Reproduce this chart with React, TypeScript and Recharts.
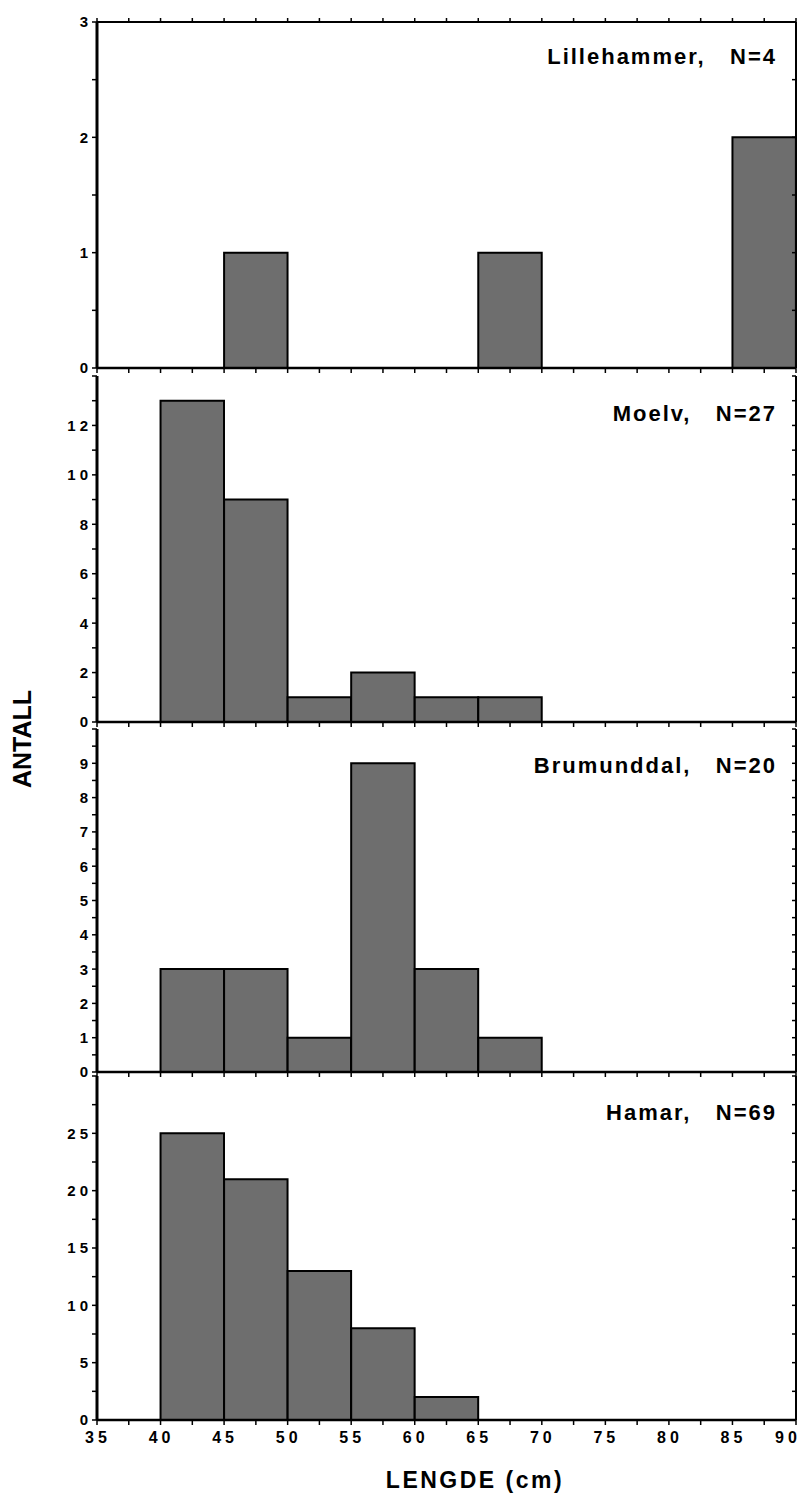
import React from 'react';
import { BarChart, Bar, Line, XAxis, YAxis } from 'recharts';

// ---- data ----
const binStarts = [35, 40, 45, 50, 55, 60, 65, 70, 75, 80, 85];
const binWidth = 5;
const lillehammer = [0, 0, 1, 0, 0, 0, 1, 0, 0, 0, 2];
const moelv = [0, 13, 9, 1, 2, 1, 1, 0, 0, 0, 0];
const brumunddal = [0, 3, 3, 1, 9, 3, 1, 0, 0, 0, 0];
const hamar = [0, 25, 21, 13, 8, 2, 0, 0, 0, 0, 0];

const xTicks = [35, 37.5, 40, 42.5, 45, 47.5, 50, 52.5, 55, 57.5, 60, 62.5, 65, 67.5, 70, 72.5, 75, 77.5, 80, 82.5, 85, 87.5, 90];
const xLabels = [35, 40, 45, 50, 55, 60, 65, 70, 75, 80, 85, 90];

const y1Ticks = [0, 0.5, 1, 1.5, 2, 2.5, 3];
const y1Labels = [0, 1, 2, 3];
const y2Ticks = [0, 1, 2, 3, 4, 5, 6, 7, 8, 9, 10, 11, 12, 13, 14];
const y2Labels = [0, 2, 4, 6, 8, 10, 12];
const y3Ticks = [0, 0.5, 1, 1.5, 2, 2.5, 3, 3.5, 4, 4.5, 5, 5.5, 6, 6.5, 7, 7.5, 8, 8.5, 9, 9.5, 10];
const y3Labels = [0, 1, 2, 3, 4, 5, 6, 7, 8, 9];
const y4Ticks = [0, 2.5, 5, 7.5, 10, 12.5, 15, 17.5, 20, 22.5, 25, 27.5, 30];
const y4Labels = [0, 5, 10, 15, 20, 25];

const titles = ['Lillehammer,   N=4', 'Moelv,   N=27', 'Brumunddal,   N=20', 'Hamar,   N=69'];
const xTitle = 'LENGDE (cm)';
const yTitle = 'ANTALL';

const FONT = '"Liberation Sans", Arial, Helvetica, sans-serif';
const BAR_FILL = '#6e6e6e';
const PLOT_LEFT = 97;
const RIGHT_MARGIN = 5;
const CHART_W = 801;
const BAR_PX = ((CHART_W - PLOT_LEFT - RIGHT_MARGIN - 1) * binWidth) / (90 - 35);

type PanelProps = {
  values: number[];
  yTicks: number[];
  yLabels: number[];
  yMax: number;
  top: number;
  height: number;
  mTop: number;
  mBottom: number;
  axisH: number;
  showXLabels: boolean;
  showTopAxis: boolean;
};

function Panel(p: PanelProps) {
  const data = binStarts.map((b, i) => ({ x: b + binWidth / 2, v: p.values[i] }));
  const yTick = (props: any) => {
    const { x, y, payload } = props;
    if (!p.yLabels.includes(payload.value)) return <g />;
    return (
      <text x={x + 4} y={y} dy="0.36em" textAnchor="end" fontFamily={FONT} fontWeight="bold" fontSize={15} letterSpacing={4} fill="#000">
        {payload.value}
      </text>
    );
  };
  const xTick = (props: any) => {
    const { x, y, payload } = props;
    if (!p.showXLabels || !xLabels.includes(payload.value)) return <g />;
    const cx = Math.min(x + 1, 788);
    return (
      <text x={cx} y={y + 16} textAnchor="middle" fontFamily={FONT} fontWeight="bold" fontSize={16} letterSpacing={4} fill="#000">
        {payload.value}
      </text>
    );
  };
  return (
    <div style={{ position: 'absolute', left: 0, top: p.top }}>
      <BarChart width={CHART_W} height={p.height} data={data} margin={{ top: p.mTop, right: RIGHT_MARGIN, bottom: p.mBottom, left: 0 }} barCategoryGap="0%" barGap={0}>
        <XAxis
          xAxisId="num"
          dataKey="x"
          type="number"
          domain={[35, 90]}
          ticks={xTicks}
          allowDataOverflow
          height={p.axisH}
          tickSize={5}
          tickMargin={2}
          axisLine={{ stroke: '#000', strokeWidth: 2.5 }}
          tickLine={{ stroke: '#000', strokeWidth: 1.5 }}
          tick={xTick}
          interval={0}
        />
        {p.showTopAxis && (
          <XAxis
            xAxisId="top"
            orientation="top"
            dataKey="x"
            type="number"
            domain={[35, 90]}
            ticks={xTicks}
            allowDataOverflow
            height={1}
            tickSize={4}
            axisLine={{ stroke: '#000', strokeWidth: 2 }}
            tickLine={{ stroke: '#000', strokeWidth: 1.5 }}
            tick={() => <g />}
            interval={0}
          />
        )}
        <YAxis
          yAxisId="left"
          width={PLOT_LEFT}
          domain={[0, p.yMax]}
          ticks={p.yTicks}
          allowDataOverflow
          interval={0}
          tickSize={5}
          tickMargin={4}
          axisLine={{ stroke: '#000', strokeWidth: 3 }}
          tickLine={{ stroke: '#000', strokeWidth: 1.5 }}
          tick={yTick}
        />
        <YAxis
          yAxisId="right"
          orientation="right"
          width={1}
          domain={[0, p.yMax]}
          ticks={p.yTicks}
          allowDataOverflow
          interval={0}
          mirror
          tickSize={4}
          axisLine={{ stroke: '#000', strokeWidth: 2 }}
          tickLine={{ stroke: '#000', strokeWidth: 1.5 }}
          tick={() => <g />}
        />
        <Bar xAxisId="num" yAxisId="left" dataKey="v" barSize={BAR_PX} fill={BAR_FILL} stroke="#000" strokeWidth={2} isAnimationActive={false} />
        <Line
          xAxisId={p.showTopAxis ? 'top' : 'num'}
          yAxisId="right"
          dataKey="v"
          stroke="none"
          strokeWidth={0}
          dot={false}
          activeDot={false}
          legendType="none"
          isAnimationActive={false}
        />
      </BarChart>
    </div>
  );
}

export default function App() {
  const titleBaselines = [64, 421, 773, 1120];
  return (
    <div style={{ position: 'absolute', left: 0, top: 0, width: 801, height: 1494, background: '#fff' }}>
      <Panel values={lillehammer} yTicks={y1Ticks} yLabels={y1Labels} yMax={3} top={0} height={376} mTop={21} mBottom={7} axisH={1} showXLabels={false} showTopAxis />
      <Panel values={moelv} yTicks={y2Ticks} yLabels={y2Labels} yMax={14} top={368} height={362} mTop={8} mBottom={7} axisH={1} showXLabels={false} showTopAxis={false} />
      <Panel values={brumunddal} yTicks={y3Ticks} yLabels={y3Labels} yMax={10} top={722} height={358} mTop={7} mBottom={7} axisH={1} showXLabels={false} showTopAxis={false} />
      <Panel values={hamar} yTicks={y4Ticks} yLabels={y4Labels} yMax={30} top={1072} height={422} mTop={4} mBottom={44} axisH={30} showXLabels showTopAxis={false} />
      <svg width={801} height={1494} style={{ position: 'absolute', left: 0, top: 0, pointerEvents: 'none' }}>
        {titles.map((t, i) => (
          <text key={t} x={777} y={titleBaselines[i]} textAnchor="end" fontFamily={FONT} fontWeight="bold" fontSize={22} letterSpacing={2} xmlSpace="preserve" style={{ whiteSpace: 'pre' }} fill="#000">
            {t}
          </text>
        ))}
        <text x={475} y={1488} textAnchor="middle" fontFamily={FONT} fontWeight="bold" fontSize={23} letterSpacing={2.5} fill="#000">
          {xTitle}
        </text>
        <text x={0} y={0} transform="translate(31 739) rotate(-90)" textAnchor="middle" fontFamily={FONT} fontWeight="bold" fontSize={25} fill="#000">
          {yTitle}
        </text>
      </svg>
    </div>
  );
}
